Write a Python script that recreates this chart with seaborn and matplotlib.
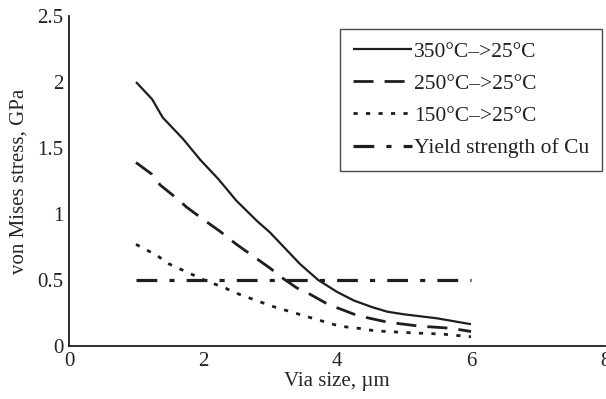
import matplotlib
matplotlib.use("Agg")
import matplotlib.pyplot as plt
import seaborn as sns
import pandas as pd

# Von Mises stress in Cu vias versus via size for three cooling ranges
x_350 = [1.0, 1.24, 1.4, 1.7, 1.96, 2.22, 2.5, 2.8, 3.0, 3.45, 3.72, 4.0, 4.25, 4.52, 4.75, 5.0, 5.49, 6.0]
y_350 = [2.0, 1.87, 1.73, 1.57, 1.41, 1.27, 1.10, 0.95, 0.86, 0.62, 0.50, 0.41, 0.345, 0.295, 0.26, 0.24, 0.21, 0.165]

x_250 = [1.0, 1.24, 1.36, 1.58, 1.76, 2.0, 2.25, 2.5, 2.75, 3.0, 3.2, 3.4, 3.57, 3.85, 4.0, 4.31, 4.49, 4.76, 5.24, 5.69, 6.0]
y_250 = [1.39, 1.30, 1.22, 1.13, 1.05, 0.96, 0.87, 0.77, 0.68, 0.59, 0.51, 0.44, 0.40, 0.32, 0.29, 0.23, 0.21, 0.18, 0.15, 0.135, 0.11]

x_150 = [1.0, 1.3, 1.5, 1.76, 2.06, 2.28, 2.55, 3.04, 3.57, 4.04, 4.31, 4.57, 5.1, 5.58, 6.0]
y_150 = [0.77, 0.69, 0.62, 0.56, 0.49, 0.45, 0.39, 0.30, 0.22, 0.15, 0.135, 0.115, 0.10, 0.09, 0.07]

x_yield = [1.0, 6.0]
y_yield = [0.5, 0.5]

labels = ["350°C–>25°C", "250°C–>25°C", "150°C–>25°C", "Yield strength of Cu"]
x_ticks = [0, 2, 4, 6, 8]
y_ticks = [0, 0.5, 1, 1.5, 2, 2.5]
y_tick_labels = ["0", "0.5", "1", "1.5", "2", "2.5"]

sns.set_theme(style="white")
plt.rcParams["font.family"] = ["Liberation Serif", "DejaVu Serif"]
plt.rcParams["text.color"] = "#222222"

ink = "#1e1e1e"
fs = 15
fig = plt.figure(figsize=(6.06, 3.99), dpi=100)
ax = fig.add_axes([69 / 606, 53 / 399, 536 / 606, 330 / 399])

series = [
    (x_350, y_350, labels[0], 1.6, None),
    (x_250, y_250, labels[1], 2.0, (7.2, 4.0)),
    (x_150, y_150, labels[2], 2.0, (1.5, 3.0)),
    (x_yield, y_yield, labels[3], 2.3, (6.5, 3.8, 1.6, 3.8)),
]
for xs, ys, lab, lw, dash in series:
    df = pd.DataFrame({"x": xs, "y": ys})
    sns.lineplot(data=df, x="x", y="y", ax=ax, color=ink, linewidth=lw,
                 label=lab, estimator=None, sort=False)
    line = ax.lines[-1]
    line.set_dash_capstyle("butt")
    line.set_solid_capstyle("butt")
    if dash is not None:
        line.set_dashes(dash)

ax.set_xlim(0, 8)
ax.set_ylim(0, 2.5)
ax.set_xticks(x_ticks)
ax.set_yticks(y_ticks)
ax.set_yticklabels(y_tick_labels)
ax.tick_params(direction="in", length=6, width=1.1, colors=ink, labelsize=fs,
               labelcolor="#222222")
ax.tick_params(axis="x", pad=4)
ax.tick_params(axis="y", pad=4)
for side in ["top", "right"]:
    ax.spines[side].set_visible(False)
for side in ["left", "bottom"]:
    ax.spines[side].set_color(ink)
    ax.spines[side].set_linewidth(1.3)

ax.set_xlabel("Via size, µm", fontsize=fs, labelpad=1)
ax.set_ylabel("von Mises stress, GPa", fontsize=fs, labelpad=6)

handles, _ = ax.get_legend_handles_labels()
leg = ax.legend(handles, labels, loc="upper left", bbox_to_anchor=(0.506, 0.96),
                borderaxespad=0, frameon=True, fancybox=False, fontsize=15.5,
                handlelength=2.75, handletextpad=0.1, labelspacing=0.56,
                borderpad=0.58)
leg.get_frame().set_edgecolor(ink)
leg.get_frame().set_linewidth(1.0)

fig.savefig("out.png", dpi=100)
